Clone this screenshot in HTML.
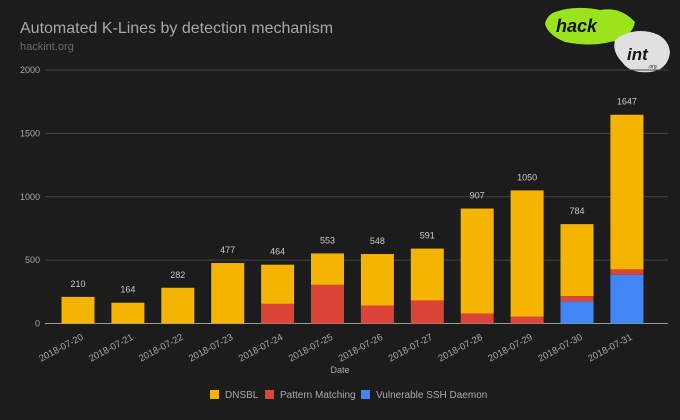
<!DOCTYPE html>
<html><head><meta charset="utf-8"><style>
html,body{margin:0;padding:0;background:#1c1c1c;}
svg{display:block;font-family:"Liberation Sans",sans-serif;}
</style></head><body>
<svg id="c" width="680" height="420" xmlns="http://www.w3.org/2000/svg">
<rect width="680" height="420" fill="#1c1c1c"/>
<text x="20" y="33" font-size="16" fill="#a8a8a8">Automated K-Lines by detection mechanism</text>
<text x="20" y="50" font-size="11" fill="#6a6a6a">hackint.org</text>
<g>
<path d="M555 12 Q575 5 600 10 Q620 6 635 22 Q632 38 610 42 Q590 47 565 42 Q548 35 545 24 Q547 15 555 12Z" fill="#9be31c"/>
<path d="M615 40 Q630 28 650 32 Q668 36 670 52 Q668 70 650 72 Q630 74 622 62 Q612 52 615 40Z" fill="#e0e0e0"/>
<text x="556" y="32" font-size="18" font-weight="bold" font-style="italic" fill="#111">hack</text>
<text x="627" y="60" font-size="17" font-weight="bold" font-style="italic" fill="#111">int</text>
<text x="648" y="68" font-size="5" fill="#111">.org</text>
</g>
<g id="grid"></g><g id="bars"></g><g id="xl"></g>
<g>
<rect x="210" y="390" width="9" height="9" fill="#f4b400"/>
<text x="225" y="398" font-size="10" fill="#a8a8a8">DNSBL</text>
<rect x="265" y="390" width="9" height="9" fill="#db4437"/>
<text x="280" y="398" font-size="10" fill="#a8a8a8">Pattern Matching</text>
<rect x="361" y="390" width="9" height="9" fill="#4285f4"/>
<text x="376" y="398" font-size="10" fill="#a8a8a8">Vulnerable SSH Daemon</text>
</g>
<text x="340" y="373" font-size="9" fill="#a8a8a8" text-anchor="middle">Date</text>
</svg>
<script>
const categories=["2018-07-20","2018-07-21","2018-07-22","2018-07-23","2018-07-24","2018-07-25","2018-07-26","2018-07-27","2018-07-28","2018-07-29","2018-07-30","2018-07-31"];
const totals=[210,164,282,477,464,553,548,591,907,1050,784,1647];
const pattern=[0,0,0,0,155,305,142,182,79,53,42,42];
const ssh=[0,0,0,0,0,0,0,0,0,0,174,385];
const yTicks=[0,500,1000,1500,2000];
const NS="http://www.w3.org/2000/svg";
const y0=323.5,pxPer=253.5/2000;
const y=v=>y0-v*pxPer;
const xc=i=>78+i*49.9;
const bw=33;
function mk(t,a,p){const e=document.createElementNS(NS,t);for(const k in a)e.setAttribute(k,a[k]);p.appendChild(e);return e;}
const grid=document.getElementById('grid'),bars=document.getElementById('bars'),xl=document.getElementById('xl');
yTicks.forEach(v=>{
 const l=mk('line',{x1:45,x2:668,y1:y(v),y2:y(v),stroke:v===0?'#9a9a9a':'#444','stroke-width':1},grid);
 
 
 const t=mk('text',{x:40,y:y(v)+3,'font-size':9,fill:'#a8a8a8','text-anchor':'end'},grid);
 t.textContent=v;
 
 
});
categories.forEach((c,i)=>{
 const x=xc(i)-bw/2;
 const d=totals[i]-pattern[i]-ssh[i];
 const segs=[[ssh[i],0,'#4285f4','ssh'],[pattern[i],ssh[i],'#db4437','pattern'],[d,ssh[i]+pattern[i],'#f4b400','dnsbl']];
 segs.forEach(s=>{if(s[0]<=0)return;
  const r=mk('rect',{x:x,y:y(s[1]+s[0]),width:bw,height:s[0]*pxPer,fill:s[2]},bars);
  
  
 });
 const lb=mk('text',{x:xc(i),y:y(totals[i])-10,'font-size':9,fill:'#c8c8c8','text-anchor':'middle'},bars);
 lb.textContent=totals[i];
 
 
 const ax=xc(i)+6, ay=339;
 const t=mk('text',{x:ax,y:ay,'font-size':9.5,fill:'#a8a8a8','text-anchor':'end',transform:`rotate(-28 ${ax} ${ay})`},xl);
 t.textContent=c;
 
 
});
</script>
</body></html>
